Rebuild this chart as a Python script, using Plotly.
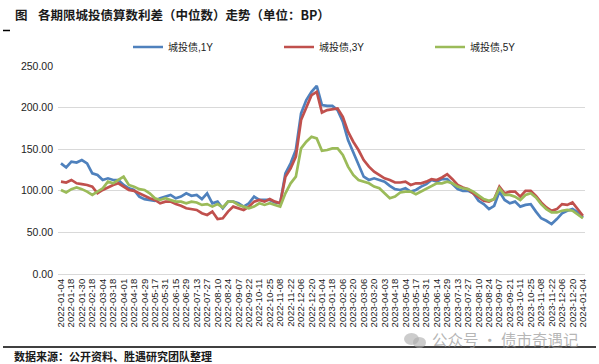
import plotly.graph_objects as go

# ---------------- data ----------------
tick_labels = [
    "2022-01-04", "2022-01-18", "2022-01-30", "2022-02-18", "2022-03-04", "2022-03-18",
    "2022-04-01", "2022-04-18", "2022-04-29", "2022-05-17", "2022-05-31", "2022-06-15",
    "2022-06-29", "2022-07-13", "2022-07-27", "2022-08-10", "2022-08-24", "2022-09-07",
    "2022-09-22", "2022-10-11", "2022-10-25", "2022-11-08", "2022-11-22", "2022-12-06",
    "2022-12-20", "2023-01-04", "2023-01-18", "2023-02-06", "2023-02-20", "2023-03-06",
    "2023-03-20", "2023-04-03", "2023-04-18", "2023-05-04", "2023-05-17", "2023-05-31",
    "2023-06-14", "2023-06-29", "2023-07-13", "2023-07-27", "2023-08-10", "2023-08-24",
    "2023-09-07", "2023-09-21", "2023-10-11", "2023-10-25", "2023-11-08", "2023-11-22",
    "2023-12-06", "2023-12-20", "2024-01-04",
]

# spreads (BP), one value every 5 trading days
spread_1y = [
    133, 128, 135, 134, 137, 133, 121, 119, 113, 115,
    113, 113, 107, 103, 101, 93, 90, 89, 88, 91,
    93, 95, 91, 93, 97, 94, 95, 90, 97, 85,
    87, 79, 87, 87,
    85, 81, 85, 93, 89, 89, 89, 86, 85,
    121, 133, 149, 193, 209, 219, 226, 203, 202, 202,
    197, 183, 161, 147, 133, 117, 113, 115, 113, 111, 106, 102, 101, 103,
    99, 101, 105, 108, 113, 111, 114, 114, 108, 102,
    100, 100, 97, 88, 84, 78, 82, 99, 89, 85,
    87, 81, 83, 84, 75, 67, 64, 60, 66, 73,
    76, 78, 74, 68,
]
spread_3y = [
    111, 110, 113, 109, 108, 107, 105, 97, 101, 104,
    107, 109, 105, 101, 100, 97, 93, 91, 89, 85,
    87, 87, 84, 82, 79, 78, 77, 73, 71, 75,
    66, 67, 75, 81,
    79, 77, 81, 87, 89, 87, 90, 87, 85,
    117, 127, 141, 185, 201, 215, 219, 194, 197, 198,
    199, 189, 171, 159, 149, 137, 129, 123, 119, 115, 113, 110, 110, 111,
    107, 109, 109, 111, 114, 113, 116, 120, 114, 107,
    104, 102, 97, 92, 88, 87, 90, 105, 97, 99,
    99, 93, 100, 100, 94, 86, 80, 76, 78, 84,
    83, 86, 78, 70,
]
spread_5y = [
    101, 98, 102, 104, 102, 99, 95, 99, 103, 111,
    109, 113, 117, 107, 105, 102, 101, 97, 91, 89,
    91, 89, 87, 87, 85, 87, 86, 83, 84, 81,
    84, 80, 87, 87,
    83, 81, 79, 81, 85, 83, 85, 83, 81,
    97, 109, 117, 151, 159, 165, 163, 148, 149, 151,
    151, 143, 129, 119, 113, 111, 109, 105, 103, 97, 91, 93, 98, 99,
    99, 96, 99, 102, 106, 109, 109, 111, 109, 105,
    103, 102, 99, 94, 90, 88, 90, 103, 95, 95,
    93, 89, 95, 97, 92, 84, 78, 74, 74, 76,
    77, 76, 72, 67,
]
series_names = ["城投债,1Y", "城投债,3Y", "城投债,5Y"]
series_colors = ["#4F81BD", "#C0504D", "#9BBB59"]

# ---------------- figure ----------------
W, H = 599, 364
ML, MR, MT, MB = 58, 14, 66, 90
PW, PH = W - ML - MR, H - MT - MB


def px(x):
    return (x - ML) / PW


def py(y):
    return (H - MB - y) / PH


idx = list(range(len(spread_1y)))
fig = go.Figure()
for name, vals, col in zip(series_names, [spread_1y, spread_3y, spread_5y], series_colors):
    fig.add_trace(go.Scatter(x=idx, y=vals, mode="lines", name=name,
                             line=dict(color=col, width=2.7)))

CJK = "Noto Sans CJK SC"
LAT = "Liberation Sans, Arial, " + CJK

fig.update_layout(
    width=W, height=H,
    margin=dict(l=ML, r=MR, t=MT, b=MB, autoexpand=False),
    paper_bgcolor="white", plot_bgcolor="white",
    showlegend=True,
    legend=dict(orientation="h", x=px(128), y=py(47), xref="paper", yref="paper",
                xanchor="left", yanchor="middle",
                entrywidth=106, entrywidthmode="pixels",
                font=dict(family=LAT, size=10, color="#222222"),
                bgcolor="rgba(0,0,0,0)", borderwidth=0, tracegroupgap=0),
    xaxis=dict(range=[-0.57, 100.4], tickmode="array", automargin=False,
               tickvals=idx[::2], ticktext=tick_labels, tickangle=-90,
               tickfont=dict(family=LAT, size=9.5, color="#222222"),
               showgrid=False, zeroline=False, showline=True,
               linecolor="#D9D9D9", linewidth=1, ticks=""),
    yaxis=dict(range=[0, 250], tickmode="linear", tick0=0, dtick=50,
               tickformat=".2f", automargin=False,
               tickfont=dict(family=LAT, size=10.5, color="#222222"),
               showgrid=True, gridcolor="#D9D9D9", gridwidth=1,
               zeroline=False, showline=False, ticks="", ticklabelstandoff=4),
)

# title
fig.add_annotation(text="<b>图</b>", x=px(13), y=py(14), xref="paper", yref="paper",
                   xanchor="left", yanchor="middle", showarrow=False,
                   font=dict(family=CJK, size=12.5, color="#1a1a1a"))
fig.add_annotation(text="<b>各期限城投债算数利差（中位数）走势（单位：BP）</b>",
                   x=px(36), y=py(14), xref="paper", yref="paper",
                   xanchor="left", yanchor="middle", showarrow=False,
                   font=dict(family=CJK, size=12.5, color="#1a1a1a"))
fig.add_shape(type="line", xref="paper", yref="paper", x0=px(3), x1=px(10),
              y0=py(30.5), y1=py(30.5), line=dict(color="#000000", width=1.5))

# footer
fig.add_shape(type="line", xref="paper", yref="paper", x0=px(3), x1=px(596),
              y0=py(347), y1=py(347), line=dict(color="#000000", width=1.5))
fig.add_annotation(text="<b>数据来源：公开资料、胜遇研究团队整理</b>",
                   x=px(12), y=py(356), xref="paper", yref="paper",
                   xanchor="left", yanchor="middle", showarrow=False,
                   font=dict(family=CJK, size=11, color="#1a1a1a"))

# watermark
fig.add_shape(type="circle", xref="paper", yref="paper",
              x0=px(404), x1=px(419), y0=py(333), y1=py(345),
              fillcolor="rgba(170,170,170,0.6)", line=dict(width=0))
fig.add_shape(type="circle", xref="paper", yref="paper",
              x0=px(413), x1=px(426), y0=py(337), y1=py(348),
              fillcolor="rgba(170,170,170,0.6)", line=dict(width=0))
fig.add_annotation(text="公众号 · 债市奇遇记", x=px(430), y=py(339),
                   xref="paper", yref="paper", xanchor="left", yanchor="middle",
                   showarrow=False,
                   font=dict(family=CJK, size=15.5, color="rgba(150,150,150,0.7)"))

fig.write_html("out.html",
               config={"displayModeBar": False},
               post_script="document.body.style.margin='0';document.body.style.padding='0';")
